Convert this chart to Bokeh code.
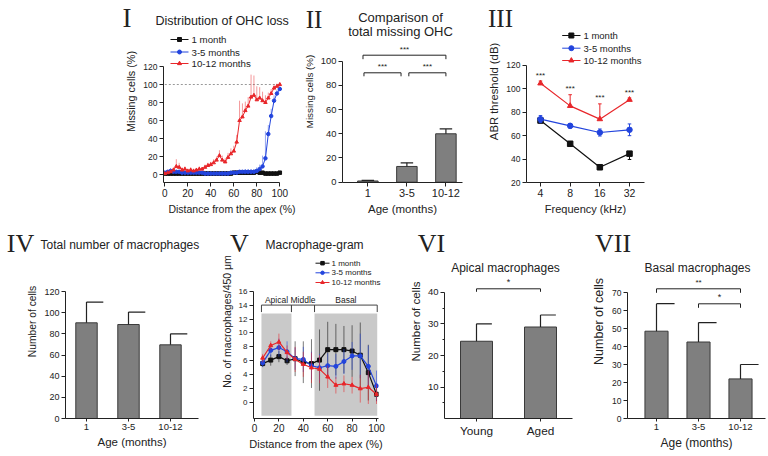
import math
from bokeh.plotting import figure
from bokeh.models import Range1d, Label, FixedTicker, NumeralTickFormatter, GridBox
from bokeh.layouts import row, column
from bokeh.embed import file_html
from bokeh.resources import INLINE
from bokeh.core.properties import value

# ------------------------------------------------------------------ data
# Panel I : distribution of OHC loss along the cochlea
ohc_dist = [0, 2.5, 5, 7.5, 10, 12.5, 15, 17.5, 20, 22.5, 25, 27.5, 30, 32.5, 35, 37.5,
            40, 42.5, 45, 47.5, 50, 52.5, 55, 57.5, 60, 62.5, 65, 67.5, 70, 72.5, 75,
            77.5, 80, 82.5, 85, 87.5, 90, 92.5, 95, 97.5, 100]
ohc_1m = [1, 1, 1, 1, 1, 1, 1, 1, 1, 1, 1, 1, 1, 1, 1, 1, 1, 1, 1, 1, 1, 1, 1, 1,
          2, 2, 2, 2, 2, 2, 2, 2, 3, 2, 2, 1, 1, 1, 1, 1, 2]
ohc_1m_err = [1, 1, 1, 1, 1, 1, 1, 1, 1, 1, 1, 1, 1, 1, 1, 1, 1, 1, 1, 1, 1, 1, 1, 1,
              1, 1, 1, 1, 1, 1, 1, 1, 2, 1, 1, 1, 1, 1, 1, 1, 1]
ohc_35m = [2, 3, 4, 3, 3, 3, 2, 2, 2, 2, 2, 2, 2, 2, 1, 1, 1, 1, 1, 1, 1, 1, 1, 2,
           2, 2, 3, 3, 3, 3, 3, 3, 4, 6, 9, 18, 45, 65, 82, 90, 95]
ohc_35m_err = [2, 2, 3, 2, 2, 2, 2, 2, 2, 2, 2, 2, 2, 2, 2, 2, 2, 2, 2, 2, 2, 2, 2, 2,
               2, 2, 2, 2, 3, 3, 3, 3, 4, 5, 12, 30, 10, 8, 6, 4, 3]
ohc_1012m = [1, 2, 3, 5, 9, 8, 5, 6, 4, 5, 4, 5, 6, 6, 8, 10, 11, 13, 16, 21, 16, 14,
             19, 23, 26, 36, 60, 64, 71, 76, 86, 88, 83, 85, 82, 80, 85, 90, 96, 98, 100]
ohc_1012m_err = [1, 2, 2, 3, 8, 5, 3, 3, 2, 3, 2, 2, 3, 2, 3, 3, 3, 4, 4, 6, 5, 4, 5,
                 6, 6, 8, 22, 15, 10, 10, 25, 22, 15, 12, 10, 8, 6, 5, 4, 3, 2]

# Panel II : total missing OHC
age_groups = ["1", "3-5", "10-12"]
missing_ohc = [1.0, 13.0, 40.0]
missing_ohc_err = [0.5, 3.0, 4.0]

# Panel III : ABR thresholds
freqs = [4, 8, 16, 32]
abr_1m = [72.8, 53.0, 33.0, 44.6]
abr_1m_err = [2.0, 1.5, 2.0, 5.0]
abr_35m = [74.0, 68.3, 62.6, 64.9]
abr_35m_err = [3.0, 2.0, 3.0, 5.0]
abr_1012m = [104.5, 85.3, 74.0, 90.5]
abr_1012m_err = [2.0, 9.5, 13.0, 1.5]

# Panel IV : total number of macrophages
total_mac = [90.4, 88.8, 69.6]
total_mac_err = [19.6, 11.8, 10.4]

# Panel V : macrophage-gram
mg_dist = [6.7, 13.3, 20, 26.7, 33.3, 40, 46.7, 53.3, 60, 66.7, 73.3, 80, 86.7, 93.3, 100]
mg_1m = [5.6, 6.1, 6.6, 6.0, 6.3, 5.8, 5.6, 6.1, 7.6, 7.6, 7.6, 7.4, 6.8, 4.3, 1.2]
mg_1m_err = [0.5, 0.8, 0.8, 0.6, 2.5, 3.0, 3.5, 4.4, 4.0, 3.7, 3.4, 3.7, 4.7, 4.0, 1.0]
mg_35m = [5.7, 7.5, 7.9, 7.3, 6.3, 6.2, 5.3, 5.0, 5.3, 5.2, 5.9, 6.7, 6.7, 5.2, 2.4]
mg_35m_err = [0.6, 0.9, 1.3, 1.5, 1.6, 1.8, 2.0, 2.0, 1.8, 1.8, 1.8, 2.0, 3.2, 3.0, 2.2]
mg_1012m = [6.4, 8.2, 8.7, 7.2, 6.2, 5.5, 5.0, 4.8, 3.7, 2.5, 2.7, 2.5, 2.0, 2.2, 1.2]
mg_1012m_err = [0.6, 0.6, 1.2, 1.0, 1.8, 1.8, 2.2, 2.0, 1.6, 1.2, 1.2, 1.2, 2.0, 2.4, 1.4]
region_names = ["Apical", "Middle", "Basal"]
region_edges = [5.7, 30.3, 49.2, 100.6]

# Panel VI : apical macrophages
apical_groups = ["Young", "Aged"]
apical_mac = [24.5, 29.0]
apical_mac_err = [5.5, 3.8]

# Panel VII : basal macrophages
basal_mac = [48.5, 42.5, 22.0]
basal_mac_err = [15.3, 10.8, 8.0]

series_names = ["1 month", "3-5 months", "10-12 months"]
panel_numerals = ["I", "II", "III", "IV", "V", "VI", "VII"]

# ------------------------------------------------------------------ style
BLACK, BLUE, RED = "#111111", "#2244dd", "#e8262a"
COLS = [BLACK, BLUE, RED]
MARKS = ["square", "circle", "triangle"]
BAR = "#7f7f7f"
AX = "#222222"
SANS = "Liberation Sans"
SERIF = "Liberation Serif"
W, H = 766, 454


class Geo:
    """maps page pixels of a panel onto its data coordinates"""
    def __init__(self, L, R, T, B, xa, xb, ya, yb, logx=False):
        self.L, self.R, self.T, self.B = L, R, T, B
        self.logx = logx
        f = math.log10 if logx else (lambda v: v)
        self.xa = (xa[0], f(xa[1])); self.xb = (xb[0], f(xb[1]))
        self.ya, self.yb = ya, yb

    def fx(self, px):
        (p0, v0), (p1, v1) = self.xa, self.xb
        v = v0 + (px - p0) * (v1 - v0) / (p1 - p0)
        return 10 ** v if self.logx else v

    def fy(self, py):
        (p0, v0), (p1, v1) = self.ya, self.yb
        return v0 + (py - p0) * (v1 - v0) / (p1 - p0)

    def dy(self, dpx):
        return dpx * abs((self.yb[1] - self.ya[1]) / (self.yb[0] - self.ya[0]))


def mk_fig(g, w, h, ml, mr, mt, mb, x_type="linear"):
    p = figure(width=w, height=h, x_axis_type=x_type,
               x_range=Range1d(g.fx(g.L), g.fx(g.R)),
               y_range=Range1d(g.fy(g.B), g.fy(g.T)),
               output_backend="svg", toolbar_location=None,
               min_border_left=ml, min_border_right=mr,
               min_border_top=mt, min_border_bottom=mb)
    p.outline_line_color = None
    p.xgrid.visible = False
    p.ygrid.visible = False
    p.background_fill_color = "white"
    p.border_fill_color = "white"
    for ax in p.axis:
        ax.axis_line_color = AX
        ax.axis_line_width = 1
        ax.major_tick_line_color = AX
        ax.minor_tick_line_color = None
        ax.major_tick_out = 4
        ax.major_tick_in = 0
        ax.major_label_standoff = 2
        ax.axis_label_standoff = 3
        ax.major_label_text_font = SANS
        ax.axis_label_text_font = SANS
        ax.axis_label_text_font_style = "normal"
        ax.major_label_text_color = AX
        ax.axis_label_text_color = AX
    return p


def set_fonts(p, xt, yt, xl, yl):
    p.xaxis.major_label_text_font_size = f"{xt}px"
    p.yaxis.major_label_text_font_size = f"{yt}px"
    p.xaxis.axis_label_text_font_size = f"{xl}px"
    p.yaxis.axis_label_text_font_size = f"{yl}px"


def bars(p, vals, errs, width, cap_l, cap_r):
    xs = list(range(1, len(vals) + 1))
    p.vbar(x=xs, top=vals, width=width, bottom=0, fill_color=BAR,
           line_color="#3a3a3a", line_width=1)
    tops = [v + e for v, e in zip(vals, errs)]
    p.segment(x0=xs, y0=vals, x1=xs, y1=tops, line_color=AX, line_width=1.2)
    p.segment(x0=[x - cap_l for x in xs], y0=tops, x1=[x + cap_r for x in xs],
              y1=tops, line_color=AX, line_width=1.2)
    return xs


def bracket(p, xa, xb, y, drop, star, star_y, size=8):
    p.line(x=[xa, xa, xb, xb], y=[y - drop, y, y, y - drop], line_color=AX, line_width=1)
    p.add_layout(Label(x=(xa + xb) / 2, y=star_y, text=star, text_font=SANS,
                       text_font_size=f"{size}px", text_align="center",
                       text_baseline="middle", text_color=AX))


# ------------------------------------------------------------------ overlay (titles, numerals, legends)
ov = figure(width=W, height=H, x_range=Range1d(0, W), y_range=Range1d(H, 0),
            output_backend="svg", toolbar_location=None,
            x_axis_location=None, y_axis_location=None, min_border=0)
ov.outline_line_color = None
ov.xgrid.visible = False
ov.ygrid.visible = False
ov.background_fill_alpha = 0
ov.border_fill_alpha = 0


def otext(px, py, s, size, font=SANS, align="center"):
    ov.text(x=[px], y=[py], text=[s], text_font=value(font),
            text_font_size=value(f"{size}px"), text_align=align,
            text_baseline="middle", text_color=AX)


def olegend(x0, x1, xt, ys, size, msize):
    for name, col, mk, y in zip(series_names, COLS, MARKS, ys):
        ov.segment(x0=[x0], y0=[y], x1=[x1], y1=[y], line_color=col, line_width=1)
        ov.scatter(x=[(x0 + x1) / 2], y=[y], marker=mk, size=msize,
                   fill_color=col, line_color=col)
        otext(xt, y, name, size, align="left")


numeral_pos = [(126.5, 17, 27), (313.5, 19, 25), (500, 18, 25), (20, 243, 26),
               (239, 243, 26), (431, 243, 26), (612.5, 243, 26)]
for s, (x, y, sz) in zip(panel_numerals, numeral_pos):
    otext(x, y, s, sz, font=SERIF)
otext(155, 20, "Distribution of OHC loss", 12.5, align="left")
otext(400, 16.5, "Comparison of", 13)
otext(400, 30.5, "total missing OHC", 13)
otext(40, 244, "Total number of macrophages", 12, align="left")
otext(265, 244, "Macrophage-gram", 12, align="left")
otext(505, 267.5, "Apical macrophages", 12)
otext(697, 267.5, "Basal macrophages", 12)
olegend(170, 188, 191, [39, 51.5, 63], 9.7, 4)
olegend(561.7, 580, 583, [35, 47.7, 60], 9.5, 5)
olegend(315, 329, 331, [262.7, 272.3, 282], 8, 3.5)

# ------------------------------------------------------------------ Panel I
gI = Geo(L=163, R=300, T=0, B=182, xa=(164.3, 0), xb=(279.3, 100), ya=(174, 0), yb=(66, 120))
pI = mk_fig(gI, 300, 224, ml=163, mr=0, mt=0, mb=42)
pI.xaxis.bounds = (gI.fx(gI.L), 100)
pI.yaxis.bounds = (gI.fy(gI.B), 120)
pI.xaxis.ticker = FixedTicker(ticks=[0, 20, 40, 60, 80, 100])
pI.yaxis.ticker = FixedTicker(ticks=[0, 20, 40, 60, 80, 100, 120])
pI.xaxis.axis_label = "Distance from the apex (%)"
pI.yaxis.axis_label = "Missing cells (%)"
set_fonts(pI, 10, 8.5, 10.5, 10.8)
pI.line(x=[0, 100], y=[100, 100], line_color="#999999", line_dash="2 2", line_width=1)
for vals, errs, col, mk in [(ohc_1m, ohc_1m_err, BLACK, "square"),
                            (ohc_35m, ohc_35m_err, BLUE, "circle"),
                            (ohc_1012m, ohc_1012m_err, RED, "triangle")]:
    p_top = [v + e for v, e in zip(vals, errs)]
    pI.segment(x0=ohc_dist, y0=vals, x1=ohc_dist, y1=p_top, line_color=col,
               line_width=0.8, line_alpha=0.6)
    pI.line(x=ohc_dist, y=vals, line_color=col, line_width=1)
    pI.scatter(x=ohc_dist, y=vals, marker=mk, size=3.5, fill_color=col, line_color=col)

# ------------------------------------------------------------------ Panel II
gII = Geo(L=339, R=462, T=0, B=183, xa=(365, 1), xb=(405, 2), ya=(182.7, 0), yb=(61, 100))
pII = mk_fig(gII, 170, 224, ml=39, mr=8, mt=0, mb=41)
pII.yaxis.bounds = (0, 100)
pII.yaxis.ticker = FixedTicker(ticks=[0, 20, 40, 60, 80, 100])
xsII = bars(pII, missing_ohc, missing_ohc_err, 0.525, 0.16, 0.16)
pII.xaxis.ticker = FixedTicker(ticks=xsII)
pII.xaxis.major_label_overrides = {x: s for x, s in zip(xsII, age_groups)}
pII.xaxis.axis_label = "Age (months)"
pII.yaxis.axis_label = "Missing cells (%)"
set_fonts(pII, 11, 9.4, 11.5, 9.8)
bracket(pII, gII.fx(360), gII.fx(445), gII.fy(55), gII.dy(4), "***", gII.fy(49.3))
bracket(pII, gII.fx(361), gII.fx(399), gII.fy(72.7), gII.dy(3.5), "***", gII.fy(66))
bracket(pII, gII.fx(407), gII.fx(445), gII.fy(72.7), gII.dy(3.5), "***", gII.fy(66))

# ------------------------------------------------------------------ Panel III
gIII = Geo(L=526, R=644, T=0, B=183, xa=(540, 4), xb=(629, 32), ya=(183, 20), yb=(65, 120), logx=True)
pIII = mk_fig(gIII, 296, 224, ml=56, mr=122, mt=0, mb=41, x_type="log")
pIII.yaxis.bounds = (20, 120)
pIII.xaxis.ticker = FixedTicker(ticks=freqs)
pIII.xaxis.formatter = NumeralTickFormatter(format="0")
pIII.yaxis.ticker = FixedTicker(ticks=[20, 40, 60, 80, 100, 120])
pIII.xaxis.axis_label = "Frequency (kHz)"
pIII.yaxis.axis_label = "ABR threshold (dB)"
set_fonts(pIII, 10.5, 8.5, 11, 11.3)
capf = 2 ** 0.06
for vals, errs, col, mk, dirn in [(abr_1m, abr_1m_err, BLACK, "square", "down"),
                                  (abr_35m, abr_35m_err, BLUE, "circle", "both"),
                                  (abr_1012m, abr_1012m_err, RED, "triangle", "up")]:
    lo = [v - e if dirn in ("down", "both") else v for v, e in zip(vals, errs)]
    hi = [v + e if dirn in ("up", "both") else v for v, e in zip(vals, errs)]
    pIII.segment(x0=freqs, y0=lo, x1=freqs, y1=hi, line_color=col, line_width=1)
    for yy, use in [(lo, dirn in ("down", "both")), (hi, dirn in ("up", "both"))]:
        if use:
            pIII.segment(x0=[f / capf for f in freqs], y0=yy, x1=[f * capf for f in freqs],
                         y1=yy, line_color=col, line_width=1)
    pIII.line(x=freqs, y=vals, line_color=col, line_width=1.2)
    pIII.scatter(x=freqs, y=vals, marker=mk, size=5.5, fill_color=col, line_color=col)
for f, v, e in zip(freqs, abr_1012m, abr_1012m_err):
    pIII.add_layout(Label(x=f, y=v + e + gIII.dy(6), text="***", text_font=SANS,
                          text_font_size="8px", text_align="center",
                          text_baseline="middle", text_color=AX))

# ------------------------------------------------------------------ Panel IV
gIV = Geo(L=65, R=198, T=224, B=418, xa=(86, 1), xb=(128, 2), ya=(418, 0), yb=(291, 120))
pIV = mk_fig(gIV, 215, 230, ml=65, mr=17, mt=0, mb=36)
pIV.yaxis.bounds = (0, 120)
pIV.yaxis.ticker = FixedTicker(ticks=[0, 20, 40, 60, 80, 100, 120])
xsIV = bars(pIV, total_mac, total_mac_err, 0.51, 0.0, 0.4)
pIV.xaxis.ticker = FixedTicker(ticks=xsIV)
pIV.xaxis.major_label_overrides = {x: s for x, s in zip(xsIV, age_groups)}
pIV.xaxis.axis_label = "Age (months)"
pIV.yaxis.axis_label = "Number of cells"
set_fonts(pIV, 9.5, 9, 11.5, 10.3)
pIV.xaxis.major_tick_out = 3

# ------------------------------------------------------------------ Panel V
gV = Geo(L=253, R=378, T=224, B=419, xa=(254, 0), xb=(376, 100), ya=(403, 0), yb=(291, 16))
pV = mk_fig(gV, 185, 230, ml=38, mr=22, mt=0, mb=35)
pV.yaxis.bounds = (gV.fy(gV.B), 16)
pV.xaxis.ticker = FixedTicker(ticks=[0, 20, 40, 60, 80, 100])
pV.yaxis.ticker = FixedTicker(ticks=[0, 2, 4, 6, 8, 10, 12, 14, 16])
pV.xaxis.axis_label = "Distance from the apex (%)"
pV.yaxis.axis_label = "No. of macrophages/450 μm"
set_fonts(pV, 10, 8, 11, 10.5)
pV.xaxis.major_tick_out = 3
pV.quad(left=[region_edges[0], region_edges[2]], right=[region_edges[1], region_edges[3]],
        bottom=-1.9, top=12.8, fill_color="#c9c9c9", line_color=None)
for i, name in enumerate(region_names):
    a, b = region_edges[i], region_edges[i + 1]
    pV.line(x=[a, a, b, b], y=[13.0, 14.0, 14.0, 13.0], line_color="#444444", line_width=1)
    pV.add_layout(Label(x=(a + b) / 2, y=14.75, text=name, text_font=SANS,
                        text_font_size="8.5px", text_align="center",
                        text_baseline="middle", text_color=AX))
for vals, errs, col, mk in [(mg_1m, mg_1m_err, BLACK, "square"),
                            (mg_35m, mg_35m_err, BLUE, "circle"),
                            (mg_1012m, mg_1012m_err, RED, "triangle")]:
    pV.segment(x0=mg_dist, y0=[v - e for v, e in zip(vals, errs)], x1=mg_dist,
               y1=[v + e for v, e in zip(vals, errs)], line_color=col,
               line_width=0.8, line_alpha=0.7)
    pV.line(x=mg_dist, y=vals, line_color=col, line_width=1.2)
    pV.scatter(x=mg_dist, y=vals, marker=mk, size=4, fill_color=col, line_color=col)

# ------------------------------------------------------------------ Panel VI
gVI = Geo(L=444, R=572, T=224, B=418, xa=(476, 1), xb=(540, 2), ya=(418.3, 0), yb=(291.7, 40))
pVI = mk_fig(gVI, 175, 230, ml=44, mr=3, mt=0, mb=36)
pVI.yaxis.bounds = (0, 40)
pVI.yaxis.ticker = FixedTicker(ticks=[0, 10, 20, 30, 40], minor_ticks=[5, 15, 25, 35])
pVI.yaxis.minor_tick_line_color = AX
pVI.yaxis.minor_tick_out = 2
pVI.yaxis.minor_tick_in = 0
xsVI = bars(pVI, apical_mac, apical_mac_err, 0.5, 0.0, 0.24)
pVI.xaxis.ticker = FixedTicker(ticks=xsVI)
pVI.xaxis.major_label_overrides = {x: s for x, s in zip(xsVI, apical_groups)}
pVI.yaxis.axis_label = "Number of cells"
set_fonts(pVI, 11.8, 9.5, 11, 11.5)
pVI.xaxis.major_tick_out = 3
bracket(pVI, 1, 2, gVI.fy(288.3), gVI.dy(3), "*", gVI.fy(281.5), size=9)

# ------------------------------------------------------------------ Panel VII
gVII = Geo(L=627, R=765, T=224, B=418, xa=(656, 1), xb=(698, 2), ya=(418, 0), yb=(292, 70))
pVII = mk_fig(gVII, 191, 230, ml=52, mr=1, mt=0, mb=36)
pVII.yaxis.bounds = (0, 70)
pVII.yaxis.ticker = FixedTicker(ticks=[0, 10, 20, 30, 40, 50, 60, 70])
xsVII = bars(pVII, basal_mac, basal_mac_err, 0.55, 0.0, 0.43)
pVII.xaxis.ticker = FixedTicker(ticks=xsVII)
pVII.xaxis.major_label_overrides = {x: s for x, s in zip(xsVII, age_groups)}
pVII.xaxis.axis_label = "Age (months)"
pVII.yaxis.axis_label = "Number of cells"
set_fonts(pVII, 9.5, 8.5, 12, 12.5)
pVII.xaxis.major_tick_out = 3
bracket(pVII, 1, 3, gVII.fy(288.3), gVII.dy(4), "**", gVII.fy(282))
bracket(pVII, 2, 3, gVII.fy(303.3), gVII.dy(4), "*", gVII.fy(296), size=9)

main = column(row(pI, pII, pIII, spacing=0), row(pIV, pV, pVI, pVII, spacing=0), spacing=0)
root = GridBox(children=[(main, 0, 0), (ov, 0, 0)])
open("out.html", "w").write(file_html(root, INLINE))
